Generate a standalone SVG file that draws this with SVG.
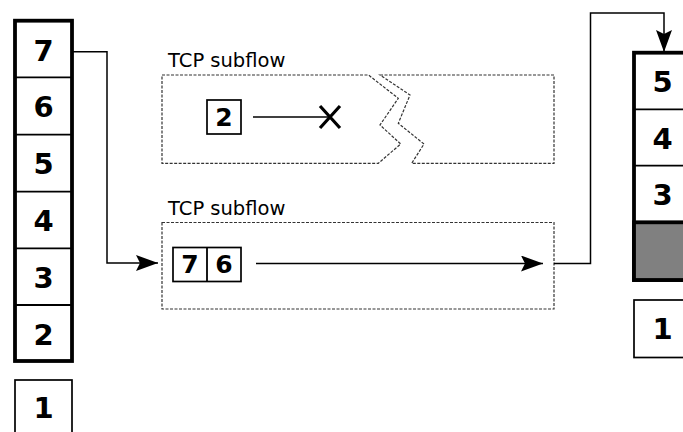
<svg xmlns="http://www.w3.org/2000/svg" width="683" height="432" viewBox="0 0 683 432">
<style>
.dig{font-family:"DejaVu Sans",sans-serif;font-weight:bold;text-anchor:middle;fill:#000}
.lbl{font-family:"DejaVu Sans",sans-serif;font-size:19.5px;fill:#000}
.thin{fill:#fff;stroke:#000;stroke-width:1.7}
.div{stroke:#000;stroke-width:1.8}
.dash{fill:#fff;stroke:#333;stroke-width:1.2;stroke-dasharray:3 1.5}
.conn{fill:none;stroke:#000;stroke-width:1.5}
</style>
<defs>
<marker id="ah" markerWidth="22" markerHeight="16" refX="22" refY="8" orient="auto" markerUnits="userSpaceOnUse">
<path d="M0,0 L22,8 L0,16 L4,8 Z" fill="#000"/>
</marker>
</defs>
<rect width="683" height="432" fill="#fff"/>

<g id="sender-stack">
<rect x="15" y="20.7" width="57" height="340.3" fill="#fff" stroke="#000" stroke-width="3.8"/>
<line class="div" x1="15" y1="77.3" x2="72" y2="77.3"/>
<line class="div" x1="15" y1="134.7" x2="72" y2="134.7"/>
<line class="div" x1="15" y1="191.7" x2="72" y2="191.7"/>
<line class="div" x1="15" y1="248.3" x2="72" y2="248.3"/>
<line class="div" x1="15" y1="305" x2="72" y2="305"/>
<text class="dig" x="43.5" y="60.5" font-size="29">7</text>
<text class="dig" x="43.5" y="117" font-size="29">6</text>
<text class="dig" x="43.5" y="174" font-size="29">5</text>
<text class="dig" x="43.5" y="231" font-size="29">4</text>
<text class="dig" x="43.5" y="288" font-size="29">3</text>
<text class="dig" x="43.5" y="344.5" font-size="29">2</text>
</g>

<g id="sender-1">
<rect class="thin" x="15" y="380" width="57" height="60"/>
<text class="dig" x="43.5" y="418" font-size="29">1</text>
</g>

<g id="subflow-1">
<text class="lbl" x="168" y="66.5">TCP subflow</text>
<path class="dash" d="M162,75 L368.5,75 L398.3,98.3 L380,125 L400.7,144 L378.3,163.3 L162,163.3 Z"/>
<path class="dash" d="M380,75 L554,75 L554,163.3 L411.7,163.3 L424,144 L398.3,123.3 L410,95 Z"/>
<rect class="thin" x="207" y="100" width="34" height="34"/>
<text class="dig" x="224" y="126" font-size="25">2</text>
<line x1="253" y1="117" x2="330" y2="117" stroke="#000" stroke-width="1.5"/>
<path d="M320,106 L340,128 M340,106 L320,128" stroke="#000" stroke-width="3.2" fill="none"/>
</g>

<g id="subflow-2">
<text class="lbl" x="168" y="215">TCP subflow</text>
<rect class="dash" x="162" y="222.5" width="392" height="86.5"/>
<rect class="thin" x="173" y="247.5" width="68" height="34"/>
<line class="div" x1="207" y1="247.5" x2="207" y2="281.5"/>
<text class="dig" x="190" y="273.3" font-size="25">7</text>
<text class="dig" x="224" y="273.3" font-size="25">6</text>
</g>

<g id="receiver-stack">
<rect x="634" y="52.7" width="60" height="227.3" fill="#fff" stroke="#000" stroke-width="3.8"/>
<rect x="634" y="222.3" width="60" height="57.7" fill="#808080" stroke="#000" stroke-width="3.8"/>
<line class="div" x1="634" y1="109.3" x2="694" y2="109.3"/>
<line class="div" x1="634" y1="165.7" x2="694" y2="165.7"/>
<text class="dig" x="662.5" y="92" font-size="29">5</text>
<text class="dig" x="662.5" y="148.5" font-size="29">4</text>
<text class="dig" x="662.5" y="205" font-size="29">3</text>
</g>

<g id="receiver-1">
<rect class="thin" x="634" y="300" width="60" height="57.5"/>
<text class="dig" x="662.5" y="339" font-size="29">1</text>
</g>

<g id="connectors">
<path class="conn" d="M73,51.7 L107,51.7 L107,263 L158,263" marker-end="url(#ah)"/>
<path class="conn" d="M256,263.5 L543,263.5" marker-end="url(#ah)"/>
<path class="conn" d="M554,263.5 L590.5,263.5 L590.5,13 L664,13 L664,52" marker-end="url(#ah)"/>
</g>
</svg>
